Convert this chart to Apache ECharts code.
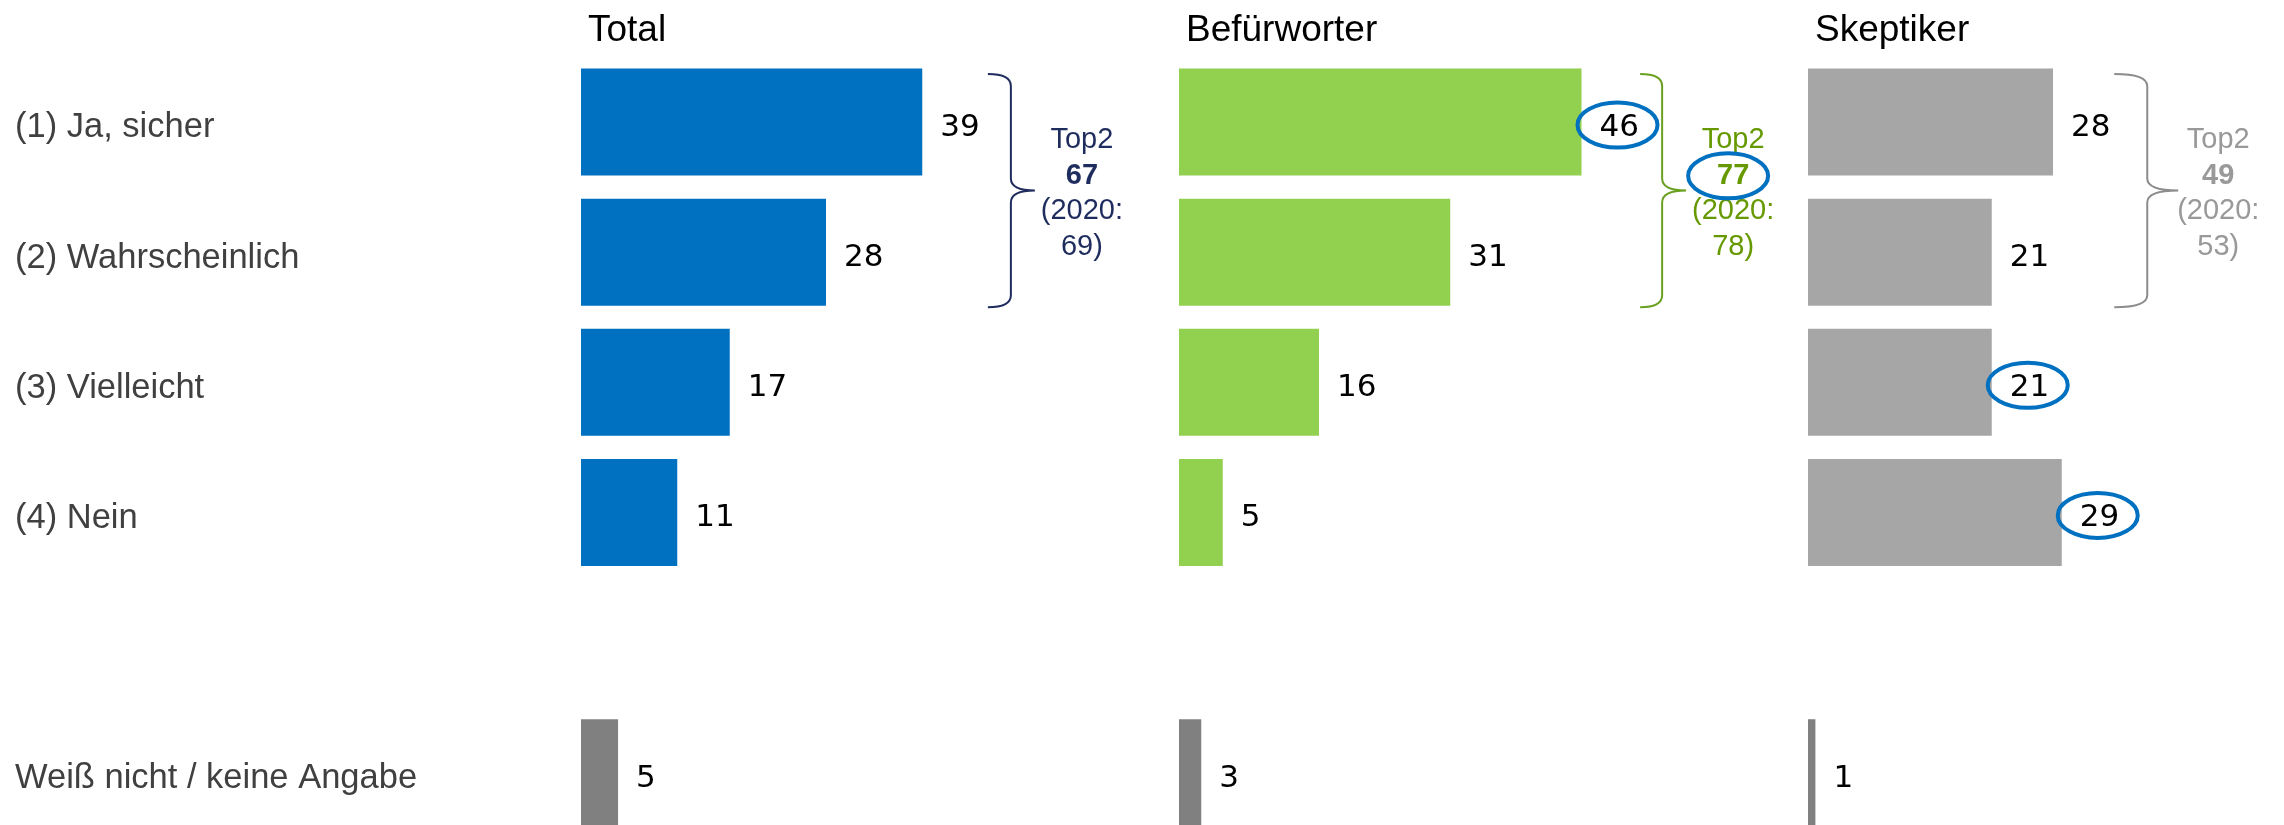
<!DOCTYPE html>
<html>
<head>
<meta charset="utf-8">
<script src="https://cdn.jsdelivr.net/npm/echarts@6/dist/echarts.min.js"></script>
<style>
  html, body { margin: 0; padding: 0; background: #fff; }
  #chart { width: 2284px; height: 825px; }
</style>
</head>
<body>
<div id="chart"></div>
<script>
// answers (rows), row 5 is a spacer before "don't know"
const categories = ['(1) Ja, sicher', '(2) Wahrscheinlich', '(3) Vielleicht', '(4) Nein', '', 'Weiß nicht / keine Angabe']
const groups = ['Total', 'Befürworter', 'Skeptiker']

const totalValues = [39, 28, 17, 11]
const befuerworterValues = [46, 31, 16, 5]
const skeptikerValues = [28, 21, 21, 29]
const dontKnowValues = [5, 3, 1]

const top2Values = [67, 77, 49]
const top2Prev = [69, 78, 53]
const prevYear = '2020'

// highlighted values (row indices per group) and highlighted top2
const circledBars = [[], [0], [2, 3]]
const circledTop2 = [false, true, false]

const panelValues = [totalValues, befuerworterValues, skeptikerValues]

// layout
const gridLeft = [581, 1179, 1808]
const gridWidth = 437.5
const valueMax = 50
const dontKnowMax = 59
const barHeight = 107
const barColors = ['#0070C0', '#92D050', '#A6A6A6']
const dontKnowColor = '#808080'
const noteColors = ['#1F2D5E', '#669900', '#999999']
const braceColors = ['#1F2D5E', '#6AA121', '#8C8C8C']
const braceX = [46.5, 52.7, 35] // value-axis position of the brace hooks
const braceArm = [23, 22, 33]
const braceTip = [24, 24, 31]
const sansFont = '"Liberation Sans", Arial, sans-serif'
const valueFont = '"DejaVu Sans", Verdana, sans-serif'
const labelDrop = 6

const chart = echarts.init(document.getElementById('chart'))

const valueLabel = {
  show: true,
  position: 'right',
  distance: 18,
  offset: [0, labelDrop],
  fontFamily: valueFont,
  fontSize: 31,
  color: '#000',
  formatter: (p) => (p.value == null ? '' : p.value),
}

function braceRenderer(p) {
  return function (params, api) {
    const c0 = api.coord([braceX[p], 0])
    const c1 = api.coord([braceX[p], 1])
    const yTop = c0[1] - barHeight / 2 + 5.5
    const yBot = c1[1] + barHeight / 2 + 1.5
    const yMid = (yTop + yBot) / 2
    const x0 = c0[0]
    const xs = x0 + braceArm[p]
    const xt = xs + braceTip[p]
    const r = 12
    const d = `M${x0},${yTop} Q${xs},${yTop} ${xs},${yTop + r} L${xs},${yMid - r} ` +
      `Q${xs},${yMid} ${xt},${yMid} Q${xs},${yMid} ${xs},${yMid + r} ` +
      `L${xs},${yBot - r} Q${xs},${yBot} ${x0},${yBot}`

    const children = [{
      type: 'path',
      shape: { pathData: d },
      style: { fill: 'none', stroke: braceColors[p], lineWidth: 2 },
    }]

    const tx = xs + 71
    const ty = yMid + 3
    const lines = ['Top2', String(top2Values[p]), '(' + prevYear + ':', top2Prev[p] + ')']
    const lineGap = 35.5
    lines.forEach((t, i) => {
      children.push({
        type: 'text',
        style: {
          text: t,
          x: tx,
          y: ty + (i - 1.5) * lineGap,
          align: 'center',
          verticalAlign: 'middle',
          fill: noteColors[p],
          font: (i === 1 ? 'bold ' : '') + '29px ' + sansFont,
        },
      })
    })

    const ring = { fill: 'none', stroke: '#0070C0', lineWidth: 4 }
    if (circledTop2[p]) {
      children.push({
        type: 'ellipse',
        shape: { cx: tx - 5, cy: ty - 0.5 * lineGap, rx: 40, ry: 22.5 },
        style: ring,
      })
    }
    circledBars[p].forEach((i) => {
      const pt = api.coord([panelValues[p][i], i])
      children.push({
        type: 'ellipse',
        shape: { cx: pt[0] + 36, cy: pt[1] + 3, rx: 40, ry: 22.5 },
        style: ring,
      })
    })

    return { type: 'group', children }
  }
}

const grid = []
const xAxis = []
const yAxis = []
const series = []
const title = []

groups.forEach((g, p) => {
  grid.push({
    left: gridLeft[p],
    top: 56.9,
    width: gridWidth,
    height: 780.9,
    containLabel: false,
    outerBoundsMode: 'none',
  })
  xAxis.push({ gridIndex: p, type: 'value', min: 0, max: valueMax, show: false })
  xAxis.push({ gridIndex: p, type: 'value', min: 0, max: dontKnowMax, show: false, position: 'top' })
  yAxis.push({
    gridIndex: p,
    type: 'category',
    data: categories,
    inverse: true,
    axisLine: { show: false },
    axisTick: { show: false },
    splitLine: { show: false },
    axisLabel: {
      show: p === 0,
      align: 'left',
      verticalAlign: 'top',
      lineHeight: 2 * labelDrop,
      margin: gridLeft[0] - 15,
      fontFamily: sansFont,
      fontSize: 34.5,
      color: '#404040',
    },
  })
  title.push({
    text: g,
    left: gridLeft[p] + 7,
    top: 12,
    padding: 0,
    textStyle: { fontFamily: sansFont, fontSize: 37, fontWeight: 'normal', color: '#000' },
  })

  series.push({
    type: 'bar',
    xAxisIndex: 2 * p,
    yAxisIndex: p,
    data: panelValues[p].concat([null, null]),
    barWidth: barHeight,
    barGap: '-100%',
    itemStyle: { color: barColors[p] },
    label: valueLabel,
    silent: true,
  })
  series.push({
    type: 'bar',
    xAxisIndex: 2 * p + 1,
    yAxisIndex: p,
    data: [null, null, null, null, null, dontKnowValues[p]],
    barWidth: barHeight,
    barGap: '-100%',
    itemStyle: { color: dontKnowColor },
    label: valueLabel,
    silent: true,
  })
  series.push({
    type: 'custom',
    xAxisIndex: 2 * p,
    yAxisIndex: p,
    data: [[braceX[p], 0]],
    renderItem: braceRenderer(p),
    silent: true,
    z: 5,
  })
})

chart.setOption({
  animation: false,
  backgroundColor: '#fff',
  title,
  grid,
  xAxis,
  yAxis,
  series,
})
</script>
</body>
</html>
